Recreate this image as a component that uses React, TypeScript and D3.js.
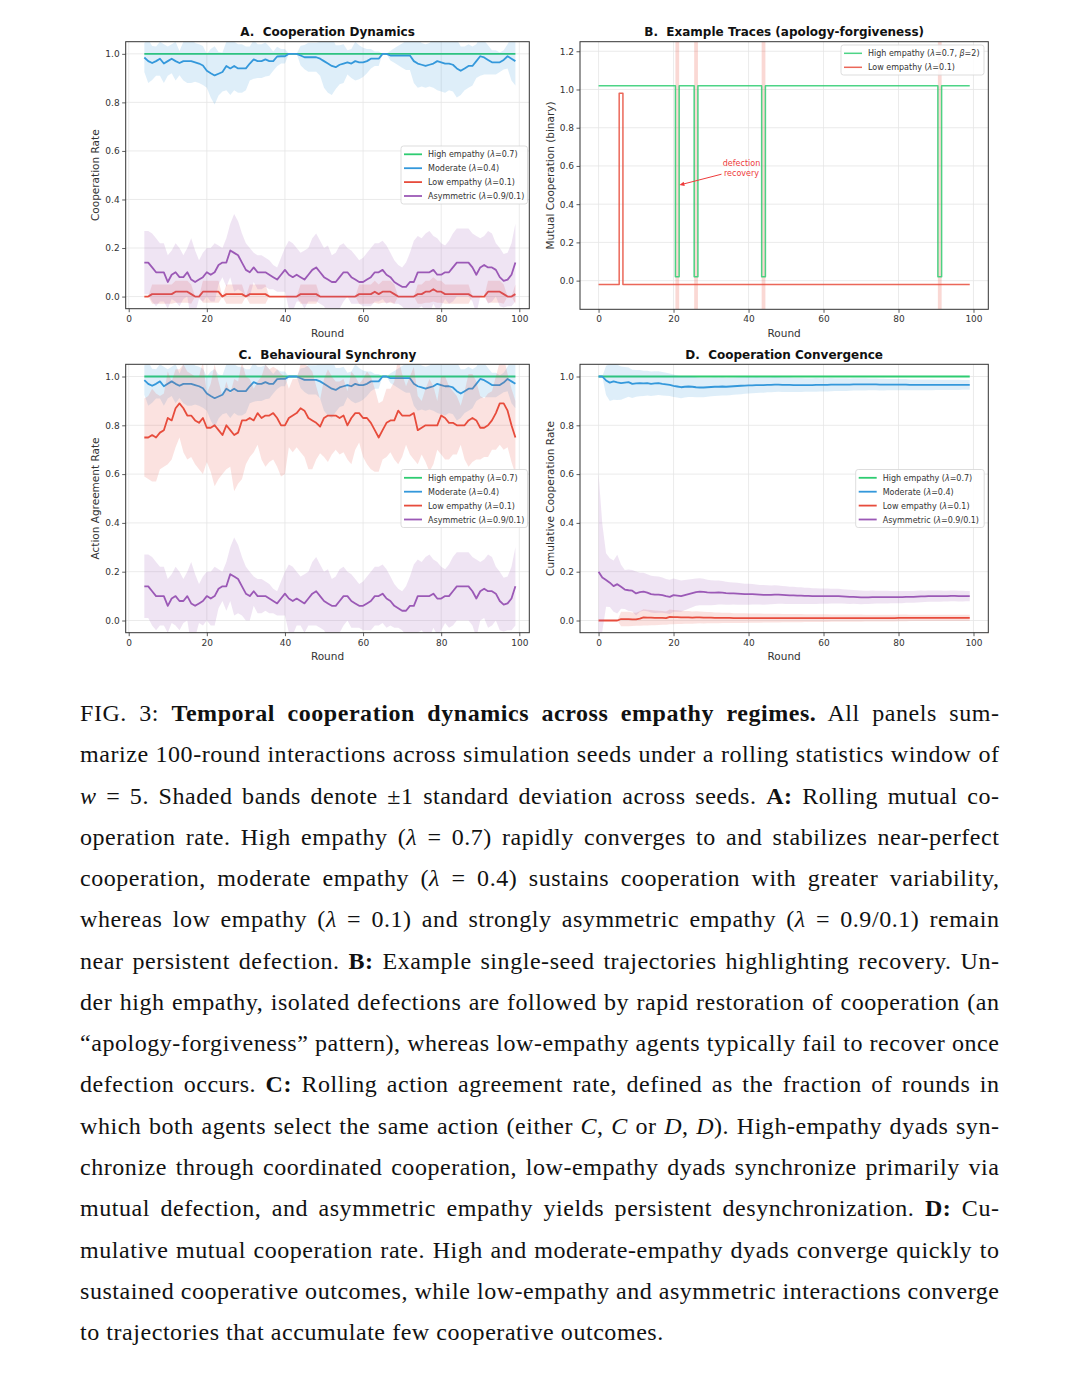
import React, { useEffect, useRef } from 'react';
import * as d3 from 'd3';

// ---------------- DATA ----------------
const ROLL_ROUNDS = d3.range(4, 100); // rolling window w=5 -> rounds 4..99
const ALL_ROUNDS = d3.range(0, 100);

const LABELS = ['High empathy (λ=0.7)', 'Moderate (λ=0.4)', 'Low empathy (λ=0.1)', 'Asymmetric (λ=0.9/0.1)'];
const B_LABELS = ['High empathy (λ=0.7, β=2)', 'Low empathy (λ=0.1)'];

// Panel A: rolling mutual cooperation rate
const A_HIGH_MEAN = [1,1,1,1,1,1,1,1,1,1, 1,1,1,1,1,1,1,1,1,1, 1,1,1,1,1,1,1,1,1,1, 1,1,1,1,1,1,1,1,1,1, 1,1,1,1,1,1,1,1,1,1, 1,1,1,1,1,1,1,1,1,1, 1,1,1,1,1,1,1,1,1,1, 1,1,1,1,1,1,1,1,1,1, 1,1,1,1,1,1,1,1,1,1, 1,1,1,1,1,1];
const A_HIGH_STD = [0,0,0,0,0,0,0,0,0,0, 0,0,0,0,0,0,0,0,0,0, 0,0,0,0,0,0,0,0,0,0, 0,0,0,0,0,0,0,0,0,0, 0,0,0,0,0,0,0,0,0,0, 0,0,0,0,0,0,0,0,0,0, 0,0,0,0,0,0,0,0,0,0, 0,0,0,0,0,0,0,0,0,0, 0,0,0,0,0,0,0,0,0,0, 0,0,0,0,0,0];
const A_MOD_MEAN = [
  .985,.97,.962,.97,.98,.96,.97,.98,.97,.962,
  .97,.97,.97,.965,.96,.952,.93,.92,.911,.918,
  .925,.95,.94,.95,.94,.94,.94,.96,.977,.97,
  .97,.977,.97,.97,.989,.99,.99,1,1,1,
  .993,.986,.986,.986,.986,.98,.97,.96,.95,.945,
  .955,.96,.965,.96,.97,.965,.965,.97,.98,.98,
  .98,1,1,.993,.993,.993,.993,.993,.993,.97,
  .96,.955,.95,.955,.96,.97,.965,.96,.96,.955,
  .94,.93,.94,.95,.95,.97,.99,.985,.975,.965,
  .965,.965,.975,.99,.98,.97];
const A_MOD_STD = [
  .06,.09,.07,.06,.07,.08,.06,.06,.08,.05,
  .08,.09,.09,.08,.08,.08,.07,.10,.12,.09,
  .08,.10,.11,.10,.10,.10,.09,.07,.08,.07,
  .07,.07,.06,.04,.04,.03,.03,0,0,0,
  .04,.05,.06,.06,.06,.07,.11,.12,.12,.09,
  .08,.08,.05,.06,.08,.07,.06,.05,.04,.03,
  .03,0,0,.02,.03,.04,.05,.06,.06,.09,
  .10,.09,.09,.09,.10,.12,.12,.12,.11,.11,
  .12,.10,.09,.09,.08,.07,.08,.07,.06,.05,
  .05,.04,.04,.05,.09,.10];
const A_LOW_MEAN = [
  0,0,.01,.01,.01,.01,.01,.01,.02,.02,
  .02,.02,.01,0,0,.02,.02,.02,.02,.02,
  0,.01,.01,.01,.01,.01,0,.01,.01,.01,
  .01,.01,0,0,0,0,0,0,0,0,
  .01,.01,.01,.01,.01,0,0,0,0,0,
  0,0,0,0,0,.01,.01,.01,.01,.02,
  .01,.02,.02,.02,.01,0,0,0,0,0,
  .01,.01,.02,.02,.03,.02,.02,.01,.01,.01,
  .01,.01,.01,.01,0,0,0,0,.02,.02,
  .02,.02,.01,0,0,.01];
const A_LOW_STD = [
  0,0,.04,.04,.04,.04,.04,.04,.045,.045,
  .045,.045,.04,0,0,.045,.045,.045,.045,.045,
  0,.04,.04,.04,.04,.04,0,.04,.04,.04,
  .04,.04,0,0,0,0,0,0,0,0,
  .04,.04,.04,.04,.04,0,0,0,0,0,
  0,0,0,0,0,.04,.04,.04,.04,.045,
  .04,.045,.045,.045,.04,0,0,0,0,0,
  .04,.04,.045,.045,.05,.045,.045,.04,.04,.04,
  .04,.04,.04,.04,0,0,0,0,.045,.045,
  .045,.045,.04,0,0,.04];
const A_ASYM_MEAN = [
  .14,.14,.12,.10,.10,.10,.06,.09,.10,.08,
  .08,.10,.07,.06,.07,.08,.10,.09,.10,.13,
  .14,.14,.19,.18,.17,.14,.11,.10,.12,.10,
  .10,.10,.09,.08,.07,.09,.11,.09,.08,.09,
  .08,.07,.09,.11,.12,.10,.08,.07,.06,.06,
  .08,.10,.10,.08,.07,.06,.06,.07,.08,.10,
  .10,.11,.09,.08,.06,.05,.04,.04,.06,.06,
  .10,.10,.10,.10,.11,.09,.09,.10,.10,.12,
  .14,.14,.14,.14,.12,.09,.12,.13,.12,.12,
  .11,.08,.065,.07,.09,.14];
const A_ASYM_STD = [
  .13,.13,.14,.14,.12,.12,.11,.10,.12,.12,
  .09,.10,.17,.13,.08,.10,.10,.11,.12,.08,
  .06,.10,.11,.16,.14,.12,.11,.10,.06,.07,
  .07,.06,.06,.05,.05,.07,.09,.14,.14,.11,
  .10,.12,.11,.13,.14,.13,.12,.14,.11,.12,
  .13,.12,.10,.11,.10,.09,.10,.11,.12,.12,
  .12,.12,.12,.10,.09,.08,.08,.10,.12,.17,
  .15,.14,.16,.17,.14,.15,.13,.11,.13,.14,
  .14,.14,.14,.14,.14,.16,.12,.12,.15,.14,
  .11,.12,.11,.11,.13,.16];

// Panel C: rolling action agreement rate
const C_HIGH_MEAN = A_HIGH_MEAN;
const C_HIGH_STD = A_HIGH_STD;
const C_MOD_MEAN = A_MOD_MEAN;
const C_MOD_STD = A_MOD_STD;
const C_LOW_MEAN = [
  .75,.75,.76,.75,.77,.78,.83,.82,.87,.89,
  .87,.84,.84,.82,.81,.83,.79,.79,.80,.78,
  .76,.80,.78,.76,.77,.82,.82,.83,.82,.85,
  .83,.84,.84,.85,.83,.80,.80,.83,.84,.85,
  .87,.86,.83,.82,.81,.795,.83,.84,.84,.84,
  .83,.84,.80,.83,.85,.85,.83,.83,.81,.78,
  .75,.78,.81,.82,.82,.86,.84,.84,.84,.85,
  .78,.79,.80,.80,.80,.80,.84,.83,.81,.81,
  .80,.80,.80,.82,.83,.82,.79,.79,.80,.82,
  .85,.89,.89,.86,.80,.75];
const C_LOW_STD = [
  .16,.17,.19,.18,.15,.15,.19,.16,.16,.14,
  .18,.18,.17,.18,.19,.23,.14,.18,.25,.20,
  .16,.18,.15,.23,.21,.24,.18,.16,.13,.13,
  .17,.21,.19,.19,.20,.21,.20,.12,.15,.14,
  .18,.19,.21,.20,.15,.11,.16,.19,.16,.14,
  .15,.15,.14,.19,.15,.12,.16,.19,.19,.17,
  .14,.12,.14,.13,.16,.22,.17,.12,.16,.19,
  .14,.11,.15,.19,.16,.10,.16,.17,.15,.13,
  .12,.08,.14,.19,.18,.16,.13,.12,.13,.12,
  .15,.17,.19,.15,.15,.15];
const C_ASYM_MEAN = A_ASYM_MEAN;
const C_ASYM_STD = A_ASYM_STD;

// Panel B: single-seed binary traces (rounds 0..99)
const B_HIGH = [
  1,1,1,1,1,1,1,1,1,1, 1,1,1,1,1,1,1,1,1,1, 1,0,1,1,1,1,0,1,1,1, 1,1,1,1,1,1,1,1,1,1,
  1,1,1,1,0,1,1,1,1,1, 1,1,1,1,1,1,1,1,1,1, 1,1,1,1,1,1,1,1,1,1, 1,1,1,1,1,1,1,1,1,1,
  1,1,1,1,1,1,1,1,1,1, 1,0,1,1,1,1,1,1,1,1];
const B_LOW = [
  0,0,0,0,0,0,1,0,0,0, 0,0,0,0,0,0,0,0,0,0, 0,0,0,0,0,0,0,0,0,0, 0,0,0,0,0,0,0,0,0,0,
  0,0,0,0,0,0,0,0,0,0, 0,0,0,0,0,0,0,0,0,0, 0,0,0,0,0,0,0,0,0,0, 0,0,0,0,0,0,0,0,0,0,
  0,0,0,0,0,0,0,0,0,0, 0,0,0,0,0,0,0,0,0,0];
const B_DEFECTION_ROUNDS = [21, 26, 44, 91];

// Panel D: cumulative cooperation rate (rounds 0..99)
const D_HIGH_MEAN = [1,1,1,1,1,1,1,1,1,1, 1,1,1,1,1,1,1,1,1,1, 1,1,1,1,1,1,1,1,1,1, 1,1,1,1,1,1,1,1,1,1, 1,1,1,1,1,1,1,1,1,1, 1,1,1,1,1,1,1,1,1,1, 1,1,1,1,1,1,1,1,1,1, 1,1,1,1,1,1,1,1,1,1, 1,1,1,1,1,1,1,1,1,1, 1,1,1,1,1,1,1,1,1,1];
const D_HIGH_STD = [0,0,0,0,0,0,0,0,0,0, 0,0,0,0,0,0,0,0,0,0, 0,0,0,0,0,0,0,0,0,0, 0,0,0,0,0,0,0,0,0,0, 0,0,0,0,0,0,0,0,0,0, 0,0,0,0,0,0,0,0,0,0, 0,0,0,0,0,0,0,0,0,0, 0,0,0,0,0,0,0,0,0,0, 0,0,0,0,0,0,0,0,0,0, 0,0,0,0,0,0,0,0,0,0];
const D_MOD_MEAN = [
  1,1,.984,.975,.98,.976,.973,.975,.977,.97,
  .972,.973,.972,.973,.97,.972,.973,.97,.968,.966,
  .962,.959,.956,.958,.959,.958,.956,.955,.955,.956,
  .957,.958,.958,.959,.958,.959,.96,.961,.962,.963,
  .964,.964,.965,.965,.965,.966,.966,.967,.967,.966,
  .966,.966,.965,.965,.965,.965,.965,.965,.966,.966,
  .966,.966,.967,.967,.967,.967,.967,.967,.968,.968,
  .968,.968,.968,.968,.968,.967,.967,.967,.967,.967,
  .967,.967,.967,.966,.966,.966,.966,.966,.966,.966,
  .966,.966,.966,.966,.966,.966,.966,.966,.966,.966];
const D_MOD_STD = [
  0,0,.06,.075,.075,.072,.068,.064,.06,.058,
  .055,.054,.052,.051,.05,.05,.049,.048,.047,.046,
  .046,.045,.045,.044,.043,.042,.041,.04,.04,.039,
  .038,.038,.037,.037,.036,.036,.035,.035,.035,.034,
  .034,.033,.033,.032,.032,.031,.031,.031,.03,.03,
  .03,.03,.029,.029,.029,.028,.028,.028,.028,.027,
  .027,.027,.027,.026,.026,.026,.026,.025,.025,.025,
  .025,.025,.024,.024,.024,.024,.024,.023,.023,.023,
  .023,.023,.023,.022,.022,.022,.022,.022,.022,.022,
  .021,.021,.021,.021,.021,.021,.021,.02,.02,.02];
const D_LOW_MEAN = [
  0,0,0,0,0,0,.006,.006,.006,.005,
  .005,.008,.013,.012,.012,.011,.011,.011,.010,.015,
  .014,.014,.013,.013,.013,.012,.013,.013,.012,.012,
  .012,.011,.011,.011,.011,.011,.010,.010,.010,.010,
  .010,.010,.010,.010,.010,.010,.010,.010,.010,.010,
  .010,.010,.010,.010,.010,.010,.010,.010,.010,.010,
  .010,.010,.010,.010,.010,.010,.010,.010,.010,.010,
  .010,.010,.010,.010,.010,.010,.010,.010,.010,.010,
  .011,.011,.011,.011,.011,.011,.011,.011,.011,.011,
  .011,.011,.011,.011,.011,.011,.011,.011,.011,.011];
const D_LOW_STD = [
  0,0,0,0,0,0,.03,.03,.03,.028,
  .027,.03,.033,.032,.031,.03,.029,.028,.027,.03,
  .029,.028,.027,.026,.026,.025,.025,.024,.024,.023,
  .023,.022,.022,.021,.021,.021,.02,.02,.02,.02,
  .019,.019,.019,.019,.018,.018,.018,.018,.018,.017,
  .017,.017,.017,.017,.017,.016,.016,.016,.016,.016,
  .016,.016,.015,.015,.015,.015,.015,.015,.015,.015,
  .015,.014,.014,.014,.014,.014,.014,.014,.014,.014,
  .014,.014,.014,.013,.013,.013,.013,.013,.013,.013,
  .013,.013,.013,.013,.013,.013,.013,.013,.013,.013];
const D_ASYM_MEAN = [
  .20,.176,.166,.155,.141,.149,.138,.127,.124,.122,
  .111,.116,.118,.114,.108,.106,.106,.104,.10,.097,
  .104,.102,.10,.104,.108,.112,.116,.118,.117,.115,
  .114,.114,.115,.114,.112,.111,.111,.11,.109,.108,
  .108,.108,.107,.106,.105,.105,.105,.106,.106,.105,
  .104,.103,.103,.102,.102,.101,.101,.10,.10,.10,
  .10,.10,.10,.10,.10,.099,.098,.097,.097,.096,
  .095,.095,.095,.096,.096,.096,.096,.096,.096,.096,
  .096,.096,.097,.097,.097,.098,.099,.099,.10,.10,
  .10,.10,.10,.10,.101,.101,.10,.10,.10,.10];
const D_ASYM_STD = [
  .40,.22,.11,.10,.105,.12,.09,.08,.085,.085,
  .09,.08,.078,.076,.075,.075,.074,.072,.07,.07,
  .068,.066,.064,.062,.06,.058,.056,.055,.054,.052,
  .051,.05,.049,.048,.047,.046,.045,.045,.044,.043,
  .043,.042,.041,.04,.04,.039,.038,.038,.037,.036,
  .036,.035,.035,.034,.034,.033,.033,.032,.032,.031,
  .031,.031,.03,.03,.03,.029,.029,.029,.028,.028,
  .028,.027,.027,.027,.026,.026,.026,.026,.025,.025,
  .025,.025,.024,.024,.024,.024,.024,.023,.023,.023,
  .023,.023,.022,.022,.022,.022,.022,.022,.021,.021];

const X_TICKS = [0, 20, 40, 60, 80, 100];
const Y_TICKS = [0, 0.2, 0.4, 0.6, 0.8, 1.0];
const Y_TICKS_B = [0, 0.2, 0.4, 0.6, 0.8, 1.0, 1.2];

// Caption: lines as segments [text, style]
const CAPTION: [string, string][][] = [
  [['FIG. 3: ', ''], ['Temporal cooperation dynamics across empathy regimes.', 'b'], [' All panels sum-', '']],
  [['marize 100-round interactions across simulation seeds under a rolling statistics window of', '']],
  [['w', 'i'], [' = 5. Shaded bands denote ±1 standard deviation across seeds. ', ''], ['A:', 'b'], [' Rolling mutual co-', '']],
  [['operation rate. High empathy (', ''], ['λ', 'i'], [' = 0.7) rapidly converges to and stabilizes near-perfect', '']],
  [['cooperation, moderate empathy (', ''], ['λ', 'i'], [' = 0.4) sustains cooperation with greater variability,', '']],
  [['whereas low empathy (', ''], ['λ', 'i'], [' = 0.1) and strongly asymmetric empathy (', ''], ['λ', 'i'], [' = 0.9/0.1) remain', '']],
  [['near persistent defection. ', ''], ['B:', 'b'], [' Example single-seed trajectories highlighting recovery. Un-', '']],
  [['der high empathy, isolated defections are followed by rapid restoration of cooperation (an', '']],
  [['\u201Capology-forgiveness\u201D pattern), whereas low-empathy agents typically fail to recover once', '']],
  [['defection occurs. ', ''], ['C:', 'b'], [' Rolling action agreement rate, defined as the fraction of rounds in', '']],
  [['which both agents select the same action (either ', ''], ['C', 'i'], [', ', ''], ['C', 'i'], [' or ', ''], ['D', 'i'], [', ', ''], ['D', 'i'], ['). High-empathy dyads syn-', '']],
  [['chronize through coordinated cooperation, low-empathy dyads synchronize primarily via', '']],
  [['mutual defection, and asymmetric empathy yields persistent desynchronization. ', ''], ['D:', 'b'], [' Cu-', '']],
  [['mulative mutual cooperation rate. High and moderate-empathy dyads converge quickly to', '']],
  [['sustained cooperative outcomes, while low-empathy and asymmetric interactions converge', '']],
  [['to trajectories that accumulate few cooperative outcomes.', '']],
];

// ---------------- STYLE ----------------
const COL = { high: '#2ecc71', mod: '#3498db', low: '#e74c3c', asym: '#9b59b6' };
const SANS = '"DejaVu Sans", sans-serif';
const SERIF = '"Liberation Serif", "DejaVu Serif", serif';

type Box = { l: number; r: number; t: number; b: number };

function richText(sel: any, str: string) {
  str.split(/(λ|β)/).forEach((part) => {
    if (!part) return;
    const t = sel.append('tspan').text(part);
    if (part === 'λ' || part === 'β') t.attr('font-style', 'italic');
  });
}

function drawPanel(svg: any, cfg: any) {
  const box: Box = cfg.box;
  const x = d3.scaleLinear().domain(cfg.xDomain).range([box.l, box.r]);
  const y = d3.scaleLinear().domain(cfg.yDomain).range([box.b, box.t]);
  const g = svg.append('g');

  g.append('defs').append('clipPath').attr('id', cfg.id)
    .append('rect').attr('x', box.l).attr('y', box.t).attr('width', box.r - box.l).attr('height', box.b - box.t);

  // grid
  g.append('g').selectAll('line').data(cfg.xTicks).join('line')
    .attr('x1', (d: number) => x(d)).attr('x2', (d: number) => x(d)).attr('y1', box.t).attr('y2', box.b)
    .attr('stroke', '#e6e6e6').attr('stroke-width', 0.8);
  g.append('g').selectAll('line').data(cfg.yTicks).join('line')
    .attr('y1', (d: number) => y(d)).attr('y2', (d: number) => y(d)).attr('x1', box.l).attr('x2', box.r)
    .attr('stroke', '#e6e6e6').attr('stroke-width', 0.8);

  const plot = g.append('g').attr('clip-path', `url(#${cfg.id})`);
  if (cfg.extra) cfg.extra(plot, x, y);

  (cfg.series || []).forEach((s: any) => {
    const xs = s.x;
    if (s.std) {
      const area = d3.area<number>()
        .x((_, i) => x(xs[i]))
        .y0((d, i) => y(d - s.std[i]))
        .y1((d, i) => y(d + s.std[i]));
      plot.append('path').datum(s.mean).attr('d', area).attr('fill', s.color).attr('fill-opacity', s.bandOpacity ?? 0.16);
    }
    const line = d3.line<number>().x((_, i) => x(xs[i])).y((d) => y(d + (s.offset || 0)));
    if (s.curve) line.curve(s.curve);
    plot.append('path').datum(s.mean).attr('d', line).attr('fill', 'none')
      .attr('stroke', s.color).attr('stroke-width', s.width || 1.8).attr('stroke-opacity', s.opacity ?? 1)
      .attr('stroke-linejoin', 'round');
  });

  if (cfg.annot) cfg.annot(g, x, y);

  // spines
  g.append('rect').attr('x', box.l).attr('y', box.t).attr('width', box.r - box.l).attr('height', box.b - box.t)
    .attr('fill', 'none').attr('stroke', '#333').attr('stroke-width', 1);

  // axes
  const ax = g.append('g').attr('transform', `translate(0,${box.b})`)
    .call(d3.axisBottom(x).tickValues(cfg.xTicks).tickSize(3.5).tickPadding(3).tickFormat(d3.format('d')));
  const ay = g.append('g').attr('transform', `translate(${box.l},0)`)
    .call(d3.axisLeft(y).tickValues(cfg.yTicks).tickSize(3.5).tickPadding(2.5).tickFormat(d3.format('.1f')));
  [ax, ay].forEach((a: any) => {
    a.select('.domain').remove();
    a.attr('font-family', SANS).attr('font-size', 9);
    a.selectAll('line').attr('stroke', '#333').attr('stroke-width', 0.8);
    a.selectAll('text').attr('fill', '#333');
  });

  // title
  g.append('text').attr('x', (box.l + box.r) / 2).attr('y', cfg.titleY).attr('text-anchor', 'middle')
    .attr('font-family', SANS).attr('font-size', 12).attr('font-weight', 'bold').attr('fill', '#111')
    .style('white-space', 'pre').text(cfg.title);
  // x label
  g.append('text').attr('x', (box.l + box.r) / 2).attr('y', cfg.xlabelY).attr('text-anchor', 'middle')
    .attr('font-family', SANS).attr('font-size', 10.5).attr('fill', '#333').text('Round');
  // y label
  g.append('text').attr('transform', `translate(${cfg.ylabelX},${(box.t + box.b) / 2}) rotate(-90)`)
    .attr('text-anchor', 'middle').attr('dominant-baseline', 'central')
    .attr('font-family', SANS).attr('font-size', 10.5).attr('fill', '#333').text(cfg.ylabel);

  // legend
  if (cfg.legend) {
    const L = cfg.legend;
    const lg = g.append('g');
    lg.append('rect').attr('x', L.x).attr('y', L.y).attr('width', L.w).attr('height', L.h).attr('rx', 2.5)
      .attr('fill', '#fff').attr('fill-opacity', 0.85).attr('stroke', '#d4d4d4').attr('stroke-width', 0.8);
    L.items.forEach((it: any, i: number) => {
      const yy = L.y + L.first + i * L.step;
      lg.append('line').attr('x1', L.x + 3).attr('x2', L.x + 21).attr('y1', yy).attr('y2', yy)
        .attr('stroke', it.color).attr('stroke-width', it.width || 1.8).attr('stroke-opacity', it.opacity ?? 1);
      const t = lg.append('text').attr('x', L.x + 27).attr('y', yy).attr('dominant-baseline', 'central')
        .attr('font-family', SANS).attr('font-size', 8).attr('fill', '#333');
      richText(t, it.label);
    });
  }
}

function drawCaption(svg: any) {
  const g = svg.append('g');
  const X0 = 80, WIDTH = 919.5, BASE = 721, STEP = 41.27;
  const texts: any[] = [];
  CAPTION.forEach((segs, i) => {
    const t = g.append('text').attr('x', X0).attr('y', BASE + i * STEP)
      .attr('font-family', SERIF).attr('font-size', 24).attr('fill', '#111')
      .style('letter-spacing', '0.55px');
    segs.forEach(([s, st]) => {
      const ts = t.append('tspan').text(s);
      if (st === 'b') ts.attr('font-weight', 'bold');
      if (st === 'i') ts.attr('font-style', 'italic');
    });
    texts.push(t);
  });
  const justify = () => {
    texts.forEach((t, i) => {
      if (i === texts.length - 1) return;
      t.style('word-spacing', null);
      const node = t.node() as SVGTextElement;
      const natural = node.getComputedTextLength();
      const spaces = (node.textContent || '').split(' ').length - 1;
      if (spaces > 0) t.style('word-spacing', `${(WIDTH - natural) / spaces}px`);
    });
  };
  justify();
  if ((document as any).fonts && (document as any).fonts.ready) (document as any).fonts.ready.then(justify);
}

export default function App() {
  const ref = useRef<SVGSVGElement>(null);
  useEffect(() => {
    const svg = d3.select(ref.current);
    svg.selectAll('*').remove();

    const boxA: Box = { l: 125.7, r: 529.3, t: 41.7, b: 308.7 };
    const boxB: Box = { l: 580, r: 988.3, t: 41.7, b: 309.3 };
    const boxC: Box = { l: 125.7, r: 529.3, t: 364.3, b: 632.7 };
    const boxD: Box = { l: 580, r: 988.3, t: 364.3, b: 632.7 };
    const rollDomain = [-0.77, 102.56];
    const fullDomain = [-4.95, 103.95];

    const legend4 = (x: number, y: number, w: number) => ({
      x, y, w, h: 58, first: 8.3, step: 13.9,
      items: [
        { color: COL.high, label: LABELS[0] },
        { color: COL.mod, label: LABELS[1] },
        { color: COL.low, label: LABELS[2] },
        { color: COL.asym, label: LABELS[3] },
      ],
    });

    drawPanel(svg, {
      id: 'clipA', box: boxA, xDomain: rollDomain, yDomain: [-0.05, 1.05], xTicks: X_TICKS, yTicks: Y_TICKS,
      title: 'A.  Cooperation Dynamics', titleY: 36, xlabelY: 337, ylabel: 'Cooperation Rate', ylabelX: 95.3,
      series: [
        { x: ROLL_ROUNDS, mean: A_HIGH_MEAN, std: A_HIGH_STD, color: COL.high },
        { x: ROLL_ROUNDS, mean: A_MOD_MEAN, std: A_MOD_STD, color: COL.mod },
        { x: ROLL_ROUNDS, mean: A_LOW_MEAN, std: A_LOW_STD, color: COL.low },
        { x: ROLL_ROUNDS, mean: A_ASYM_MEAN, std: A_ASYM_STD, color: COL.asym },
      ],
      legend: legend4(401, 146, 126.5),
    });

    drawPanel(svg, {
      id: 'clipB', box: boxB, xDomain: fullDomain, yDomain: [-0.15, 1.25], xTicks: X_TICKS, yTicks: Y_TICKS_B,
      title: 'B.  Example Traces (apology-forgiveness)', titleY: 36, xlabelY: 337,
      ylabel: 'Mutual Cooperation (binary)', ylabelX: 549.5,
      extra: (plot: any, x: any, y: any) => {
        plot.selectAll('rect.span').data(B_DEFECTION_ROUNDS).join('rect')
          .attr('x', (d: number) => x(d - 0.5)).attr('width', (d: number) => x(d + 0.5) - x(d - 0.5))
          .attr('y', boxB.t).attr('height', boxB.b - boxB.t).attr('fill', COL.low).attr('fill-opacity', 0.22);
      },
      series: [
        { x: ALL_ROUNDS, mean: B_HIGH, color: COL.high, width: 1.5, opacity: 0.85, offset: 0.02, curve: d3.curveStep },
        { x: ALL_ROUNDS, mean: B_LOW, color: COL.low, width: 1.5, opacity: 0.85, offset: -0.02, curve: d3.curveStep },
      ],
      annot: (g: any, x: any, y: any) => {
        const tx = 741.5;
        const t = g.append('text').attr('text-anchor', 'middle').attr('font-family', SANS).attr('font-size', 8)
          .attr('fill', '#ee3b3b');
        t.append('tspan').attr('x', tx).attr('y', 165.5).text('defection');
        t.append('tspan').attr('x', tx).attr('y', 175.5).text('recovery');
        const x1 = 721.5, y1 = 174.2, x2 = x(21.55), y2 = y(0.5);
        const ang = Math.atan2(y2 - y1, x2 - x1);
        const hl = 5, hw = 2.2;
        g.append('line').attr('x1', x1).attr('y1', y1).attr('x2', x2 - Math.cos(ang) * 2).attr('y2', y2 - Math.sin(ang) * 2)
          .attr('stroke', '#ee3b3b').attr('stroke-width', 1);
        const bx = x2 - Math.cos(ang) * hl, by = y2 - Math.sin(ang) * hl;
        g.append('path')
          .attr('d', `M${x2},${y2} L${bx - Math.sin(ang) * hw},${by + Math.cos(ang) * hw} L${bx + Math.sin(ang) * hw},${by - Math.cos(ang) * hw} Z`)
          .attr('fill', '#ee3b3b');
      },
      legend: {
        x: 841, y: 45, w: 143, h: 30, first: 8.3, step: 14,
        items: [
          { color: COL.high, label: B_LABELS[0], width: 1.5, opacity: 0.85 },
          { color: COL.low, label: B_LABELS[1], width: 1.5, opacity: 0.85 },
        ],
      },
    });

    drawPanel(svg, {
      id: 'clipC', box: boxC, xDomain: rollDomain, yDomain: [-0.05, 1.05], xTicks: X_TICKS, yTicks: Y_TICKS,
      title: 'C.  Behavioural Synchrony', titleY: 359, xlabelY: 660, ylabel: 'Action Agreement Rate', ylabelX: 95.3,
      series: [
        { x: ROLL_ROUNDS, mean: C_HIGH_MEAN, std: C_HIGH_STD, color: COL.high },
        { x: ROLL_ROUNDS, mean: C_MOD_MEAN, std: C_MOD_STD, color: COL.mod },
        { x: ROLL_ROUNDS, mean: C_LOW_MEAN, std: C_LOW_STD, color: COL.low },
        { x: ROLL_ROUNDS, mean: C_ASYM_MEAN, std: C_ASYM_STD, color: COL.asym },
      ],
      legend: legend4(401, 469.5, 126.5),
    });

    drawPanel(svg, {
      id: 'clipD', box: boxD, xDomain: fullDomain, yDomain: [-0.05, 1.05], xTicks: X_TICKS, yTicks: Y_TICKS,
      title: 'D.  Cooperation Convergence', titleY: 359, xlabelY: 660, ylabel: 'Cumulative Cooperation Rate', ylabelX: 549.5,
      series: [
        { x: ALL_ROUNDS, mean: D_HIGH_MEAN, std: D_HIGH_STD, color: COL.high },
        { x: ALL_ROUNDS, mean: D_MOD_MEAN, std: D_MOD_STD, color: COL.mod },
        { x: ALL_ROUNDS, mean: D_LOW_MEAN, std: D_LOW_STD, color: COL.low },
        { x: ALL_ROUNDS, mean: D_ASYM_MEAN, std: D_ASYM_STD, color: COL.asym },
      ],
      legend: legend4(855.7, 469.5, 128.5),
    });

    drawCaption(svg);
  }, []);

  return (
    <svg ref={ref} width={1080} height={1396}
      style={{ position: 'absolute', left: 0, top: 0, background: '#fff', display: 'block' }} />
  );
}
